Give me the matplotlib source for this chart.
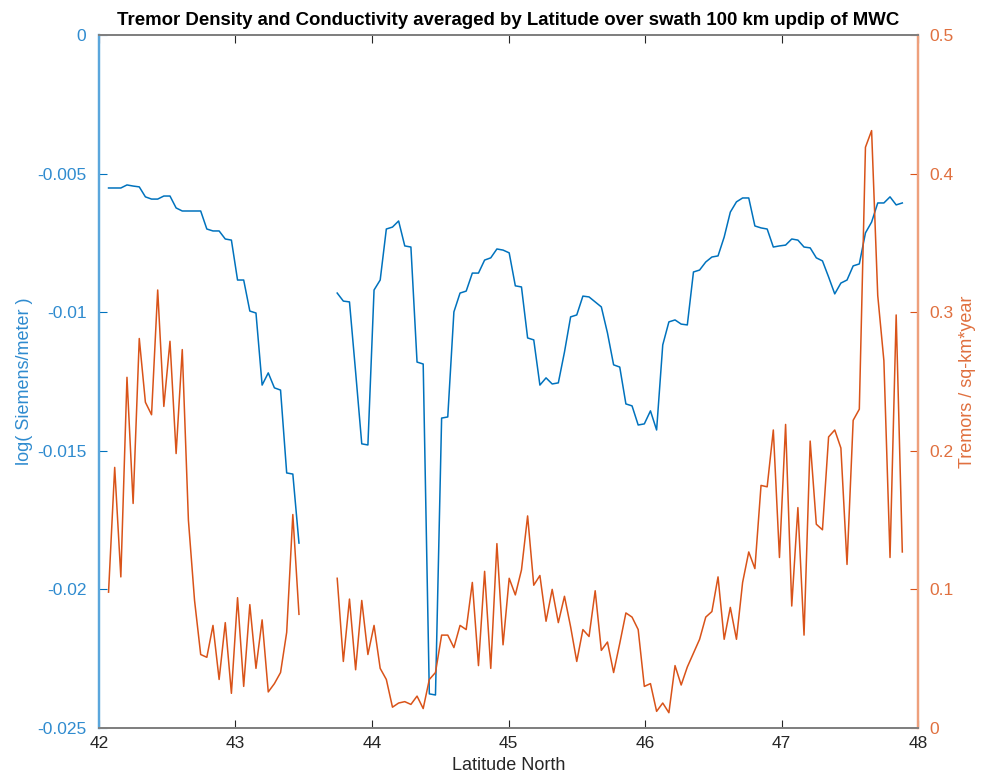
import numpy as np
import matplotlib
matplotlib.use("Agg")
import matplotlib.pyplot as plt

# latitude grid (deg N), south part and north part of the swath
lat_s = [42.07, 42.115, 42.16, 42.205, 42.25, 42.295, 42.34, 42.385, 42.43, 42.475,
         42.52, 42.565, 42.61, 42.655, 42.70, 42.745, 42.79, 42.835, 42.88, 42.925,
         42.97, 43.015, 43.06, 43.105, 43.15, 43.195, 43.24, 43.285, 43.33, 43.375,
         43.42, 43.465]
lat_n = [43.745, 43.79, 43.835, 43.88, 43.925, 43.97, 44.015, 44.06, 44.105, 44.15,
         44.195, 44.24, 44.285, 44.33, 44.375, 44.42, 44.465, 44.51, 44.555, 44.60,
         44.645, 44.69, 44.735, 44.78, 44.825, 44.87, 44.915, 44.96, 45.005, 45.05,
         45.095, 45.14, 45.185, 45.23, 45.275, 45.32, 45.365, 45.41, 45.455, 45.50,
         45.545, 45.59, 45.635, 45.68, 45.725, 45.77, 45.815, 45.86, 45.905, 45.95,
         45.995, 46.04, 46.085, 46.13, 46.175, 46.22, 46.265, 46.31, 46.355, 46.40,
         46.445, 46.49, 46.535, 46.58, 46.625, 46.67, 46.715, 46.76, 46.805, 46.85,
         46.895, 46.94, 46.985, 47.03, 47.075, 47.12, 47.165, 47.21, 47.255, 47.30,
         47.345, 47.39, 47.435, 47.48, 47.525, 47.57, 47.615, 47.66, 47.705, 47.75,
         47.795, 47.84, 47.885]

# log conductivity, in units of -1e-3
cond_s = [5.52, 5.52, 5.52, 5.41, 5.45, 5.48, 5.84, 5.92, 5.92, 5.81,
          5.81, 6.24, 6.35, 6.35, 6.35, 6.35, 7.00, 7.07, 7.07, 7.36,
          7.40, 8.84, 8.84, 9.96, 10.03, 12.63, 12.19, 12.73, 12.81, 15.80,
          15.84, 18.33]
cond_n = [9.31, 9.60, 9.63, 12.16, 14.75, 14.79, 9.20, 8.84, 7.00, 6.93,
          6.71, 7.61, 7.65, 11.80, 11.87, 23.77, 23.81, 13.82, 13.78, 9.99,
          9.31, 9.24, 8.59, 8.59, 8.12, 8.04, 7.72, 7.76, 7.86, 9.05,
          9.09, 10.93, 11.00, 12.63, 12.37, 12.59, 12.55, 11.44, 10.17, 10.10,
          9.42, 9.45, 9.63, 9.81, 10.75, 11.90, 11.98, 13.31, 13.38, 14.07,
          14.03, 13.56, 14.25, 11.18, 10.35, 10.28, 10.43, 10.46, 8.55, 8.48,
          8.19, 8.01, 7.97, 7.29, 6.39, 6.02, 5.88, 5.88, 6.89, 6.96,
          7.00, 7.65, 7.61, 7.58, 7.36, 7.40, 7.65, 7.68, 8.04, 8.15,
          8.73, 9.34, 8.95, 8.84, 8.33, 8.26, 7.14, 6.75, 6.06, 6.06,
          5.84, 6.13, 6.06]

# tremor density (tremors / sq-km*year)
trem_s = [0.098, 0.188, 0.109, 0.253, 0.162, 0.281, 0.235, 0.226, 0.316, 0.232,
          0.279, 0.198, 0.273, 0.150, 0.092, 0.053, 0.051, 0.074, 0.035, 0.076,
          0.025, 0.094, 0.030, 0.089, 0.043, 0.078, 0.026, 0.032, 0.040, 0.069,
          0.154, 0.082]
trem_n = [0.108, 0.048, 0.093, 0.042, 0.092, 0.053, 0.074, 0.043, 0.035, 0.015,
          0.018, 0.019, 0.017, 0.023, 0.014, 0.035, 0.040, 0.067, 0.067, 0.058,
          0.074, 0.071, 0.105, 0.045, 0.113, 0.043, 0.133, 0.060, 0.108, 0.096,
          0.114, 0.153, 0.103, 0.110, 0.077, 0.100, 0.076, 0.095, 0.073, 0.048,
          0.071, 0.066, 0.099, 0.056, 0.062, 0.040, 0.061, 0.083, 0.080, 0.071,
          0.030, 0.032, 0.012, 0.018, 0.011, 0.045, 0.031, 0.044, 0.054, 0.064,
          0.080, 0.084, 0.109, 0.064, 0.087, 0.064, 0.105, 0.127, 0.115, 0.175,
          0.174, 0.215, 0.123, 0.219, 0.088, 0.159, 0.067, 0.207, 0.147, 0.143,
          0.210, 0.215, 0.202, 0.118, 0.222, 0.230, 0.419, 0.431, 0.312, 0.265,
          0.123, 0.298, 0.127]

left_ticks = [0, -0.005, -0.01, -0.015, -0.02, -0.025]
right_ticks = [0, 0.1, 0.2, 0.3, 0.4, 0.5]
x_ticks = [42, 43, 44, 45, 46, 47, 48]

blue = "#0072BD"
orange = "#D95319"

plt.rcParams['font.family'] = ['Liberation Sans', 'DejaVu Sans']

fig = plt.figure(figsize=(9.87, 7.79), dpi=100)
ax = fig.add_axes([0.1003, 0.0655, 0.8298, 0.8896])
ax2 = ax.twinx()

ax.plot(lat_s, -np.array(cond_s) * 1e-3, color=blue, lw=1.1)
ax.plot(lat_n, -np.array(cond_n) * 1e-3, color=blue, lw=1.1)
ax2.plot(lat_s, trem_s, color=orange, lw=1.1)
ax2.plot(lat_n, trem_n, color=orange, lw=1.1)

ax.set_xlim(42, 48)
ax.set_ylim(-0.025, 0)
ax2.set_ylim(0, 0.5)

ax.set_xticks(x_ticks)
ax.set_xticklabels([str(t) for t in x_ticks])
ax.set_yticks(left_ticks)
ax.set_yticklabels([f"{t:g}" for t in left_ticks])
ax2.set_yticks(right_ticks)
ax2.set_yticklabels([f"{t:g}" for t in right_ticks])

ax.tick_params(axis='x', direction='in', length=6, top=True, colors='#262626',
               labelsize=12.5, width=0.8, pad=6)
ax.tick_params(axis='y', direction='in', length=6, colors=blue, labelsize=12.5,
               width=0.8, pad=9)
ax2.tick_params(axis='y', direction='in', length=6, colors=orange, labelsize=12.5,
                width=0.8, pad=8)
ax.tick_params(axis='y', labelcolor='#2f8bcf')
ax2.tick_params(axis='y', labelcolor='#e0703f')

for a in (ax, ax2):
    a.spines['top'].set_color('#808080')
    a.spines['bottom'].set_color('#808080')
    a.spines['top'].set_linewidth(1.4)
    a.spines['bottom'].set_linewidth(1.4)
    a.spines['left'].set_color('#5aa6dc')
    a.spines['right'].set_color('#eea07c')
    a.spines['left'].set_linewidth(1.6)
    a.spines['right'].set_linewidth(1.6)

ax.set_xlabel("Latitude North", fontsize=13, color='#262626', labelpad=4)
ax.set_ylabel("log( Siemens/meter )", fontsize=13, color='#2f8bcf', labelpad=3)
ax2.set_ylabel("Tremors / sq-km*year", fontsize=13, color='#e0703f', labelpad=4)
ax.set_title("Tremor Density and Conductivity averaged by Latitude over swath 100 km updip of MWC",
             fontsize=13.4, fontweight='bold', color='black', pad=7)

fig.savefig("out.png", dpi=100)
